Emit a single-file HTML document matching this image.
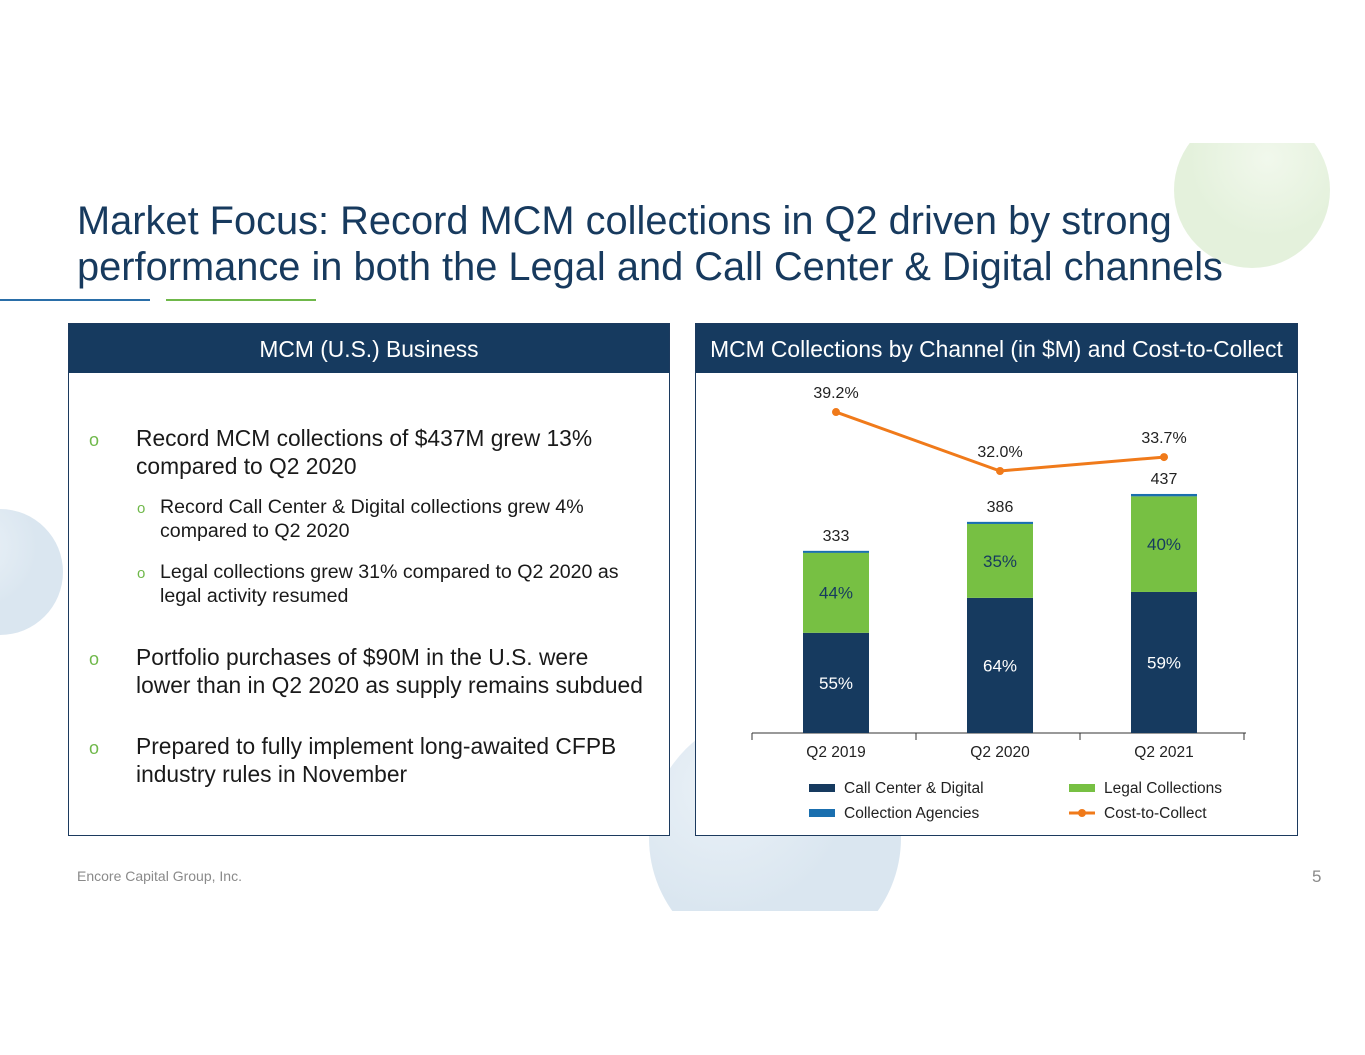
<!DOCTYPE html>
<html><head><meta charset="utf-8"><style>
body{margin:0;width:1365px;height:1055px;background:#fff;position:relative;overflow:hidden;font-family:"Liberation Sans",Arial,sans-serif}
.abs{position:absolute}
.title{left:77px;top:198px;font-size:39.8px;line-height:46px;color:#173a5e;white-space:nowrap}
.panel{border:1px solid #1c3a5e;box-sizing:border-box;background:#fff}
.hdr{background:#163a5f;color:#fff;font-size:22.8px;text-align:center;height:49px;line-height:50px;white-space:nowrap}
.b1{font-size:22.8px;line-height:28px;color:#1a1a1a;position:absolute;left:67px;white-space:nowrap}
.b2{font-size:19.6px;line-height:24px;color:#1a1a1a;position:absolute;left:91px;white-space:nowrap}
.o{position:absolute;color:#6fb84a}
</style></head><body>
<svg class="abs" style="left:0;top:0" width="1365" height="1055">
<defs><clipPath id="ct"><rect x="0" y="143" width="1365" height="768"/></clipPath>
<radialGradient id="g1" cx="0.6" cy="0.3"><stop offset="0" stop-color="#f1f8ec"/><stop offset="1" stop-color="#e4f1dc"/></radialGradient>
<radialGradient id="g2" cx="0.3" cy="0.3"><stop offset="0" stop-color="#eaf1f7"/><stop offset="1" stop-color="#dae6f0"/></radialGradient></defs>
<g clip-path="url(#ct)">
<circle cx="1252" cy="190" r="78" fill="url(#g1)"/>
<circle cx="775" cy="838" r="126" fill="url(#g2)"/>
</g>
<circle cx="0" cy="572" r="63" fill="url(#g2)"/>
<rect x="0" y="299" width="150" height="2" fill="#2a6ea8"/>
<rect x="166" y="299" width="150" height="2" fill="#6fb84a"/>
</svg>
<div class="abs title">Market Focus: Record MCM collections in Q2 driven by strong<br>performance in both the Legal and Call Center &amp; Digital channels</div>

<div class="abs panel" style="left:68px;top:323px;width:602px;height:513px">
<div class="hdr">MCM (U.S.) Business</div>
<span class="o" style="left:20px;top:106px;font-size:18px">o</span>
<div class="b1" style="top:100px">Record MCM collections of $437M grew 13%<br>compared to Q2 2020</div>
<span class="o" style="left:68px;top:176px;font-size:15px">o</span>
<div class="b2" style="top:171px">Record Call Center &amp; Digital collections grew 4%<br>compared to Q2 2020</div>
<span class="o" style="left:68px;top:241px;font-size:15px">o</span>
<div class="b2" style="top:236px">Legal collections grew 31% compared to Q2 2020 as<br>legal activity resumed</div>
<span class="o" style="left:20px;top:325px;font-size:18px">o</span>
<div class="b1" style="top:319px">Portfolio purchases of $90M in the U.S. were<br>lower than in Q2 2020 as supply remains subdued</div>
<span class="o" style="left:20px;top:414px;font-size:18px">o</span>
<div class="b1" style="top:408px">Prepared to fully implement long-awaited CFPB<br>industry rules in November</div>
</div>

<div class="abs panel" style="left:695px;top:323px;width:603px;height:513px">
<div class="hdr">MCM Collections by Channel (in $M) and Cost-to-Collect</div>
</div>
<svg id="chart" class="abs" style="left:0;top:0" width="1365" height="1055" font-family="Liberation Sans, Arial, sans-serif"></svg>

<div class="abs" style="left:77px;top:868px;font-size:14px;color:#8a8a8a">Encore Capital Group, Inc.</div>
<div class="abs" style="left:1312px;top:867px;font-size:17px;color:#8a8a8a">5</div>

<script>
const categories=["Q2 2019","Q2 2020","Q2 2021"];
const totals=[333,386,437];
const callCenterPct=[55,64,59];
const legalPct=[44,35,40];
const agencyPct=[1,1,1];
const costToCollect=[39.2,32.0,33.7];
const NS="http://www.w3.org/2000/svg";
const svg=document.getElementById("chart");
const base=733, pxPerM=0.547;
const yV=v=>base-v*pxPerM;
const yP=p=>471-(p-32)*8.19;
const xC=i=>836+i*164;
const bw=66;
function mk(t,a,txt){const e=document.createElementNS(NS,t);for(const k in a)e.setAttribute(k,a[k]);if(txt!==undefined)e.textContent=txt;svg.appendChild(e);return e;}
let ax=mk("line",{x1:752,y1:base,x2:1246,y2:base,stroke:"#333","stroke-width":1});


for(let i=0;i<=3;i++){const tx=752+i*164;let t=mk("line",{x1:tx,y1:base,x2:tx,y2:base+7,stroke:"#333"});

}
categories.forEach((c,i)=>{
 const x=xC(i)-bw/2,tot=totals[i];
 const cc=tot*callCenterPct[i]/100, lg=tot*legalPct[i]/100, ag=tot-cc-lg;
 let r1=mk("rect",{x:x,y:yV(cc),width:bw,height:cc*pxPerM,fill:"#163a5f"});
 
 
 let r2=mk("rect",{x:x,y:yV(cc+lg),width:bw,height:lg*pxPerM,fill:"#77c043"});
 
 
 let r3=mk("rect",{x:x,y:yV(tot),width:bw,height:Math.max(ag*pxPerM,2),fill:"#1a6faf"});
 
 
 let l1=mk("text",{x:xC(i),y:yV(cc/2)+6,"font-size":17,fill:"#fff","text-anchor":"middle"},callCenterPct[i]+"%");
 
 
 let l2=mk("text",{x:xC(i),y:yV(cc+lg/2)+6,"font-size":17,fill:"#163a5f","text-anchor":"middle"},legalPct[i]+"%");
 
 
 let l3=mk("text",{x:xC(i),y:yV(tot)-10,"font-size":16,fill:"#222","text-anchor":"middle"},tot);
 
 
 let l4=mk("text",{x:xC(i),y:base+24,"font-size":15.5,fill:"#222","text-anchor":"middle"},c);
 
 
});
let pl=mk("polyline",{points:costToCollect.map((p,i)=>xC(i)+","+yP(p)).join(" "),fill:"none",stroke:"#f07a1a","stroke-width":3});


costToCollect.forEach((p,i)=>{
 let c=mk("circle",{cx:xC(i),cy:yP(p),r:4,fill:"#f07a1a"});
 
 
 let t=mk("text",{x:xC(i),y:yP(p)-14,"font-size":16,fill:"#222","text-anchor":"middle"},p.toFixed(1)+"%");
 
 
});
const legend=[["Call Center & Digital","#163a5f",809,788,"r"],["Legal Collections","#77c043",1069,788,"r"],["Collection Agencies","#1a6faf",809,813,"r"],["Cost-to-Collect","#f07a1a",1069,813,"l"]];
legend.forEach(([n,col,x,y,k],i)=>{
 let m;
 if(k==="r"){m=mk("rect",{x:x,y:y-4,width:26,height:8,fill:col});}
 else{m=mk("line",{x1:x,y1:y,x2:x+26,y2:y,stroke:col,"stroke-width":3});mk("circle",{cx:x+13,cy:y,r:4,fill:col});}
 
 
 let t=mk("text",{x:x+35,y:y+5,"font-size":15.5,fill:"#222"},n);
 
 
});
</script>
</body></html>
